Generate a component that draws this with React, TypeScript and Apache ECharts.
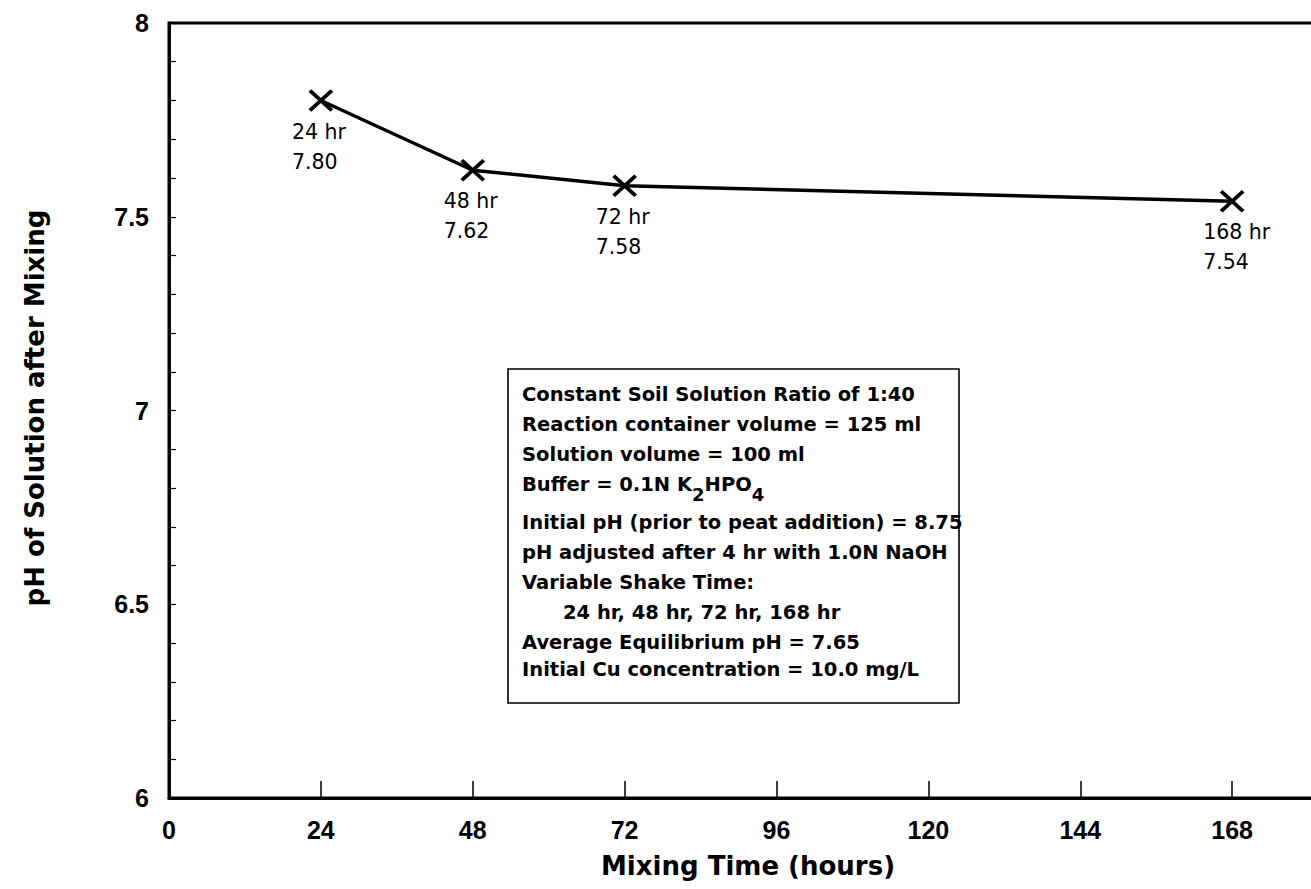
import React, { useEffect, useRef } from 'react';
import * as echarts from 'echarts';

// ---- data ----
const hours = [24, 48, 72, 168];
const phValues = [7.8, 7.62, 7.58, 7.54];
const xAxisRange = { min: 0, max: 192, interval: 24 };
const yAxisRange = { min: 6, max: 8, interval: 0.5 };
const xTitle = 'Mixing Time (hours)';
const yTitle = 'pH of Solution after Mixing';
const noteLines = [
  'Constant Soil Solution Ratio of 1:40',
  'Reaction container volume = 125 ml',
  'Solution volume = 100 ml',
  'Buffer = 0.1N K{s|2}HPO{s|4}',
  'Initial pH (prior to peat addition) = 8.75',
  'pH adjusted after 4 hr with 1.0N NaOH',
  'Variable Shake Time:',
  '24 hr, 48 hr, 72 hr, 168 hr',
  'Average Equilibrium pH = 7.65',
  'Initial Cu concentration = 10.0 mg/L',
];

// ---- layout (not data) ----
const noteLineY = [394, 424, 454, 484, 522.5, 552.5, 582.5, 612.5, 642.5, 669];
const noteLineX = [522, 522, 522, 522, 522, 522, 522, 563, 522, 522];

export default function App() {
  const ref = useRef<HTMLDivElement>(null);

  useEffect(() => {
    if (!ref.current) return;
    const chart = echarts.init(ref.current, null, { renderer: 'svg' });
    const axisFont = {
      fontFamily: '"Liberation Sans", Arial, sans-serif',
      fontWeight: 'bold' as const,
      fontSize: 25,
      color: '#000',
    };
    const noteFont = '"DejaVu Sans", sans-serif';

    const graphics: any[] = [
      {
        type: 'rect',
        shape: { x: 508, y: 369, width: 451, height: 334 },
        style: { fill: '#fff', stroke: '#000', lineWidth: 1.6 },
        z: 10,
      },
      ...noteLines.map((t, i) => ({
        type: 'text',
        x: noteLineX[i],
        y: noteLineY[i],
        z: 11,
        style: {
          text: t,
          fontFamily: noteFont,
          fontWeight: 'bold',
          fontSize: 19.5,
          fill: '#000',
          align: 'left',
          verticalAlign: 'middle',
          rich: {
            s: {
              fontFamily: noteFont,
              fontWeight: 'bold',
              fontSize: 18,
              padding: [20, 0, 0, 0],
              fill: '#000',
            },
          },
        },
      })),
      {
        type: 'text',
        x: 748,
        y: 866,
        style: {
          text: xTitle,
          fontFamily: noteFont,
          fontWeight: 'bold',
          fontSize: 26,
          fill: '#000',
          align: 'center',
          verticalAlign: 'middle',
        },
      },
      {
        type: 'text',
        x: 35,
        y: 408,
        rotation: Math.PI / 2,
        style: {
          text: yTitle,
          fontFamily: noteFont,
          fontWeight: 'bold',
          fontSize: 26,
          fill: '#000',
          align: 'center',
          verticalAlign: 'middle',
        },
      },
    ];

    chart.setOption({
      animation: false,
      backgroundColor: '#fff',
      grid: {
        left: 169,
        top: 23,
        width: 1215,
        height: 775,
        outerBoundsMode: 'none',
        containLabel: false,
        show: true,
        borderColor: '#000',
        borderWidth: 3,
        backgroundColor: 'transparent',
      },
      xAxis: {
        type: 'value',
        min: xAxisRange.min,
        max: xAxisRange.max,
        interval: xAxisRange.interval,
        axisLine: { show: true, lineStyle: { color: '#000', width: 3 } },
        axisTick: { show: true, inside: true, length: 17, lineStyle: { color: '#000', width: 1.5 } },
        axisLabel: { ...axisFont, margin: 19, showMaxLabel: false },
        splitLine: { show: false },
      },
      yAxis: {
        type: 'value',
        min: yAxisRange.min,
        max: yAxisRange.max,
        interval: yAxisRange.interval,
        axisLine: { show: true, lineStyle: { color: '#000', width: 3 } },
        axisTick: { show: true, inside: true, length: 7, lineStyle: { color: '#000', width: 1.2 } },
        minorTick: { show: true, splitNumber: 5, length: 7, lineStyle: { color: '#000', width: 1.2 } },
        axisLabel: {
          ...axisFont,
          margin: 20,
          formatter: (v: number) => String(v),
        },
        splitLine: { show: false },
      },
      series: [
        {
          type: 'line',
          data: hours.map((h, i) => [h, phValues[i]]),
          lineStyle: { color: '#000', width: 3.5 },
          symbol: 'path://M0,0L20,20M20,0L0,20',
          symbolSize: [22, 20],
          itemStyle: { color: 'transparent', borderColor: '#000', borderWidth: 3.8 },
          label: {
            show: true,
            position: [-16, 28],
            align: 'left',
            verticalAlign: 'top',
            fontFamily: noteFont,
            fontSize: 20.5,
            lineHeight: 30,
            color: '#000',
            formatter: (p: any) => `${p.value[0]} hr\n${p.value[1].toFixed(2)}`,
          },
          z: 5,
        },
      ],
      graphic: graphics,
    });

    return () => chart.dispose();
  }, []);

  return (
    <div
      ref={ref}
      style={{ position: 'absolute', left: 0, top: 0, width: 1311, height: 889 }}
    />
  );
}
